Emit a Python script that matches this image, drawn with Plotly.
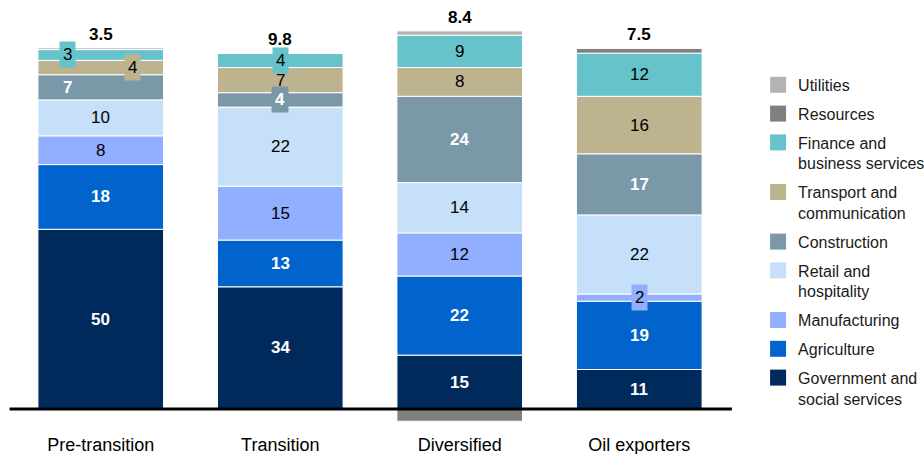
import plotly.graph_objects as go

# data
categories = ["Pre-transition", "Transition", "Diversified", "Oil exporters"]
government = [50, 34, 15, 11]
agriculture = [18, 13, 22, 19]
manufacturing = [8, 15, 12, 2]
retail = [10, 22, 14, 22]
construction = [7, 4, 24, 17]
transport = [4, 7, 8, 16]
finance = [3, 4, 9, 12]
resources = [0.5, 0, -3.4, 1.4]
utilities = [0, 0, 1.2, 0]
totals = ["3.5", "9.8", "8.4", "7.5"]

FONT = "Liberation Sans, Arial, sans-serif"

# (legend name, values, colour, label style) bottom to top
sectors = [
    ("Government and<br>social services", government, "#002A5C", "white"),
    ("Agriculture", agriculture, "#0064CC", "white"),
    ("Manufacturing", manufacturing, "#91AEFF", "black"),
    ("Retail and<br>hospitality", retail, "#C7E0F9", "black"),
    ("Construction", construction, "#7B98A8", "white"),
    ("Transport and<br>communication", transport, "#BDB38E", "black"),
    ("Finance and<br>business services", finance, "#66C3CB", "black"),
    ("Resources", resources, "#808080", None),
    ("Utilities", utilities, "#B3B3B3", None),
]

# small segments whose labels get moved or boxed
label_tweaks = {
    (0, "Finance and<br>business services"): dict(xshift=-33, box=True),
    (0, "Transport and<br>communication"): dict(xshift=32, box=True),
    (0, "Construction"): dict(xshift=-33, box=False),
    (1, "Finance and<br>business services"): dict(xshift=0, box=True),
    (1, "Construction"): dict(xshift=0, box=True),
    (3, "Manufacturing"): dict(xshift=0, box=True),
}

fig = go.Figure()

for name, vals, color, _ in sectors:
    fig.add_trace(go.Bar(
        x=categories, y=vals, name=name, showlegend=False,
        marker=dict(color=color, line=dict(color="white", width=1)),
        hoverinfo="skip",
    ))

# legend entries (top to bottom)
for i, (name, vals, color, _) in enumerate(reversed(sectors)):
    fig.add_trace(go.Scatter(
        x=[None], y=[None], mode="markers", name=name, legendgroup=str(i),
        marker=dict(symbol="square", size=16, color=color),
    ))

annotations = []
base = [0.0] * len(categories)
for name, vals, color, style in sectors:
    for i, v in enumerate(vals):
        if v <= 0:
            continue
        if style is not None:
            tw = label_tweaks.get((i, name), {})
            bold = style == "white"
            annotations.append(dict(
                x=categories[i], y=base[i] + v / 2,
                text=f"<b>{v}</b>" if bold else str(v),
                showarrow=False, xshift=tw.get("xshift", 0),
                font=dict(family=FONT, size=17, color=style),
                bgcolor=color if tw.get("box") else None,
                borderpad=3,
            ))
        base[i] += v

for i, t in enumerate(totals):
    annotations.append(dict(
        x=categories[i], y=base[i], text=f"<b>{t}</b>", showarrow=False,
        yanchor="bottom", yshift=2,
        font=dict(family=FONT, size=17, color="black"),
    ))

fig.update_layout(
    width=924, height=454,
    barmode="relative", bargap=0.3,
    plot_bgcolor="white", paper_bgcolor="white",
    margin=dict(l=11, r=195, t=28, b=27, autoexpand=False),
    font=dict(family=FONT, size=16, color="black"),
    xaxis=dict(range=[-0.5, 3.5], showline=False, showgrid=False,
               ticks="outside", ticklen=1, tickcolor="rgba(0,0,0,0)",
               tickfont=dict(size=18), automargin=False),
    yaxis=dict(range=[-5, 106], visible=False, showgrid=False,
               zeroline=False, automargin=False),
    legend=dict(x=1.0405, xanchor="left", y=0.9, yanchor="top",
                traceorder="grouped", tracegroupgap=5, valign="top",
                font=dict(family=FONT, size=16, color="#1a1a1a")),
    annotations=annotations,
    shapes=[dict(type="line", xref="paper", yref="y", x0=-0.002, x1=1.004,
                 y0=0, y1=0, line=dict(color="black", width=3), layer="above")],
)

fig.write_html("out.html", config={"displayModeBar": False},
               post_script="document.body.style.margin='0';")
